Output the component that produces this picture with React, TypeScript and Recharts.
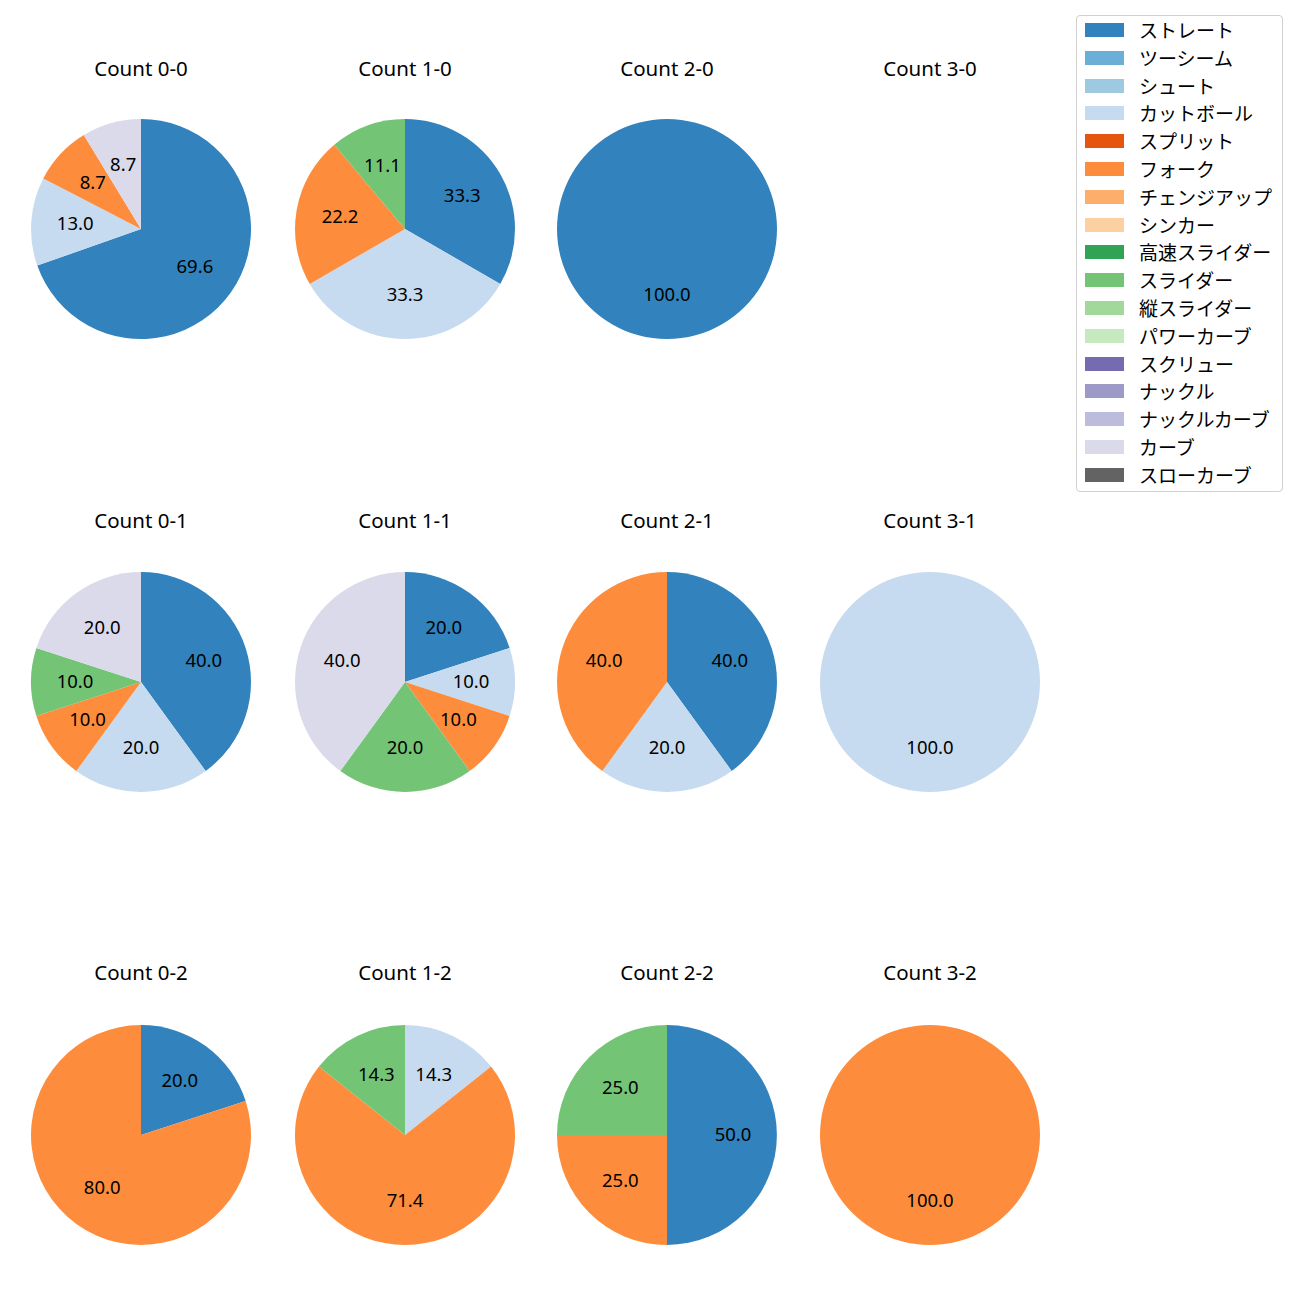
import React from "react";
import { PieChart, Pie, Cell } from "recharts";

const pitchTypes = [
  "ストレート", "ツーシーム", "シュート", "カットボール", "スプリット", "フォーク",
  "チェンジアップ", "シンカー", "高速スライダー", "スライダー", "縦スライダー",
  "パワーカーブ", "スクリュー", "ナックル", "ナックルカーブ", "カーブ", "スローカーブ",
];
const pitchColors = [
  "#3182bd", "#6baed6", "#9ecae1", "#c6dbef", "#e6550d", "#fd8d3c", "#fdae6b",
  "#fdd0a2", "#31a354", "#74c476", "#a1d99b", "#c7e9c0", "#756bb1", "#9e9ac8",
  "#bcbddc", "#dadaeb", "#636363",
];

const countTitles = [
  "Count 0-0", "Count 1-0", "Count 2-0", "Count 3-0",
  "Count 0-1", "Count 1-1", "Count 2-1", "Count 3-1",
  "Count 0-2", "Count 1-2", "Count 2-2", "Count 3-2",
];

// [pitch type, percent]
const count00: [string, number][] = [["ストレート", 69.6], ["カットボール", 13.0], ["フォーク", 8.7], ["カーブ", 8.7]];
const count10: [string, number][] = [["ストレート", 33.3], ["カットボール", 33.3], ["フォーク", 22.2], ["スライダー", 11.1]];
const count20: [string, number][] = [["ストレート", 100.0]];
const count30: [string, number][] = [];
const count01: [string, number][] = [["ストレート", 40.0], ["カットボール", 20.0], ["フォーク", 10.0], ["スライダー", 10.0], ["カーブ", 20.0]];
const count11: [string, number][] = [["ストレート", 20.0], ["カットボール", 10.0], ["フォーク", 10.0], ["スライダー", 20.0], ["カーブ", 40.0]];
const count21: [string, number][] = [["ストレート", 40.0], ["カットボール", 20.0], ["フォーク", 40.0]];
const count31: [string, number][] = [["カットボール", 100.0]];
const count02: [string, number][] = [["ストレート", 20.0], ["フォーク", 80.0]];
const count12: [string, number][] = [["カットボール", 14.3], ["フォーク", 71.4], ["スライダー", 14.3]];
const count22: [string, number][] = [["ストレート", 50.0], ["フォーク", 25.0], ["スライダー", 25.0]];
const count32: [string, number][] = [["フォーク", 100.0]];

const countData = [count00, count10, count20, count30, count01, count11, count21, count31, count02, count12, count22, count32];

const LATIN_FONT = "'Noto Sans', 'Noto Sans CJK JP', sans-serif";
const CJK_FONT = "'Noto Sans CJK JP', 'Noto Sans', sans-serif";
const colX = [141, 405, 667, 930];
const rowY = [229, 682, 1135];
const titleY = [68, 520, 972];
const R = 110;
const RAD = Math.PI / 180;

const renderLabel = (props: any) => {
  const { cx, cy, midAngle, outerRadius, value } = props;
  const r = outerRadius * 0.6;
  const x = cx + r * Math.cos(-midAngle * RAD);
  const y = cy + r * Math.sin(-midAngle * RAD) - 2;
  return (
    <text x={x} y={y} textAnchor="middle" dominantBaseline="central" fill="#000" fontSize={18.5} fontFamily={LATIN_FONT}>
      {Number(value).toFixed(1)}
    </text>
  );
};

export default function App() {
  return (
    <div style={{ position: "absolute", left: 0, top: 0, width: 1300, height: 1300, background: "#fff", fontFamily: LATIN_FONT }}>
      <PieChart width={1300} height={1300} margin={{ top: 0, left: 0, right: 0, bottom: 0 }}>
        {countData.map((d, i) => {
          if (d.length === 0) return null;
          const data = d.map(([name, value]) => ({ name, value }));
          return (
            <Pie
              key={i}
              data={data}
              dataKey="value"
              nameKey="name"
              cx={colX[i % 4]}
              cy={rowY[Math.floor(i / 4)]}
              outerRadius={R}
              innerRadius={0}
              startAngle={90}
              endAngle={-270}
              stroke="none"
              labelLine={false}
              label={renderLabel}
              isAnimationActive={false}
            >
              {data.map((e, j) => (
                <Cell key={j} fill={pitchColors[pitchTypes.indexOf(e.name)]} stroke="none" />
              ))}
            </Pie>
          );
        })}
      </PieChart>
      {countTitles.map((t, i) => (
        <div
          key={t}
          style={{
            position: "absolute",
            left: colX[i % 4] - 90,
            width: 180,
            top: titleY[Math.floor(i / 4)] - 14,
            height: 28,
            lineHeight: "28px",
            textAlign: "center",
            fontSize: 20.5,
            color: "#000",
          }}
        >
          {t}
        </div>
      ))}
      <div
        style={{
          position: "absolute",
          left: 1076,
          top: 15,
          width: 205,
          height: 475,
          border: "1px solid #d0d0d0",
          borderRadius: 4,
          background: "#fff",
        }}
      >
        {pitchTypes.map((p, i) => (
          <div key={p} style={{ position: "absolute", left: 8, top: 6 + i * 27.8, height: 16, display: "flex", alignItems: "center" }}>
            <div style={{ width: 39, height: 14, background: pitchColors[i] }} />
            <span style={{ marginLeft: 15, fontSize: 19, lineHeight: "16px", whiteSpace: "nowrap", color: "#000", fontFamily: CJK_FONT }}>{p}</span>
          </div>
        ))}
      </div>
    </div>
  );
}
